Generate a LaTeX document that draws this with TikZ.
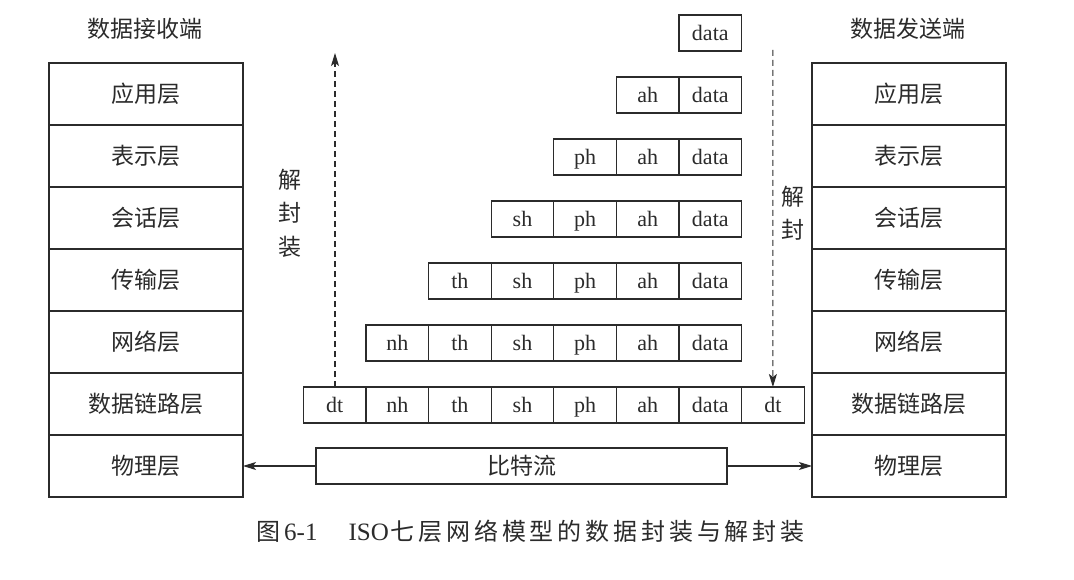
\documentclass[tikz,border=0pt]{standalone}
\usepackage{fontspec}
\setmainfont{Liberation Serif}
\newfontfamily\cjk{Noto Sans CJK SC}
\newfontfamily\cjkcap[LetterSpace=16]{Noto Sans CJK SC}
\usetikzlibrary{arrows.meta}
\definecolor{inkc}{HTML}{2B2B2B}
\begin{document}
\begin{tikzpicture}[x=1pt,y=-1pt,
  ink/.style={draw=inkc, line width=1.1pt},
  layer/.style={ink, minimum width=194pt, minimum height=62pt, inner sep=0pt, outer sep=0pt,
    anchor=north west, font=\cjk\fontsize{23}{26}\selectfont, text=inkc},
  cell/.style={ink, minimum width=62.6pt, minimum height=36pt, inner sep=0pt, outer sep=0pt,
    anchor=north west, font=\fontsize{22}{26}\selectfont, text=inkc, text height=18pt, text depth=3pt},
  title/.style={font=\cjk\fontsize{23}{26}\selectfont, text=inkc, inner sep=0pt},
  vlabel/.style={font=\cjk\fontsize{23}{33.5}\selectfont, text=inkc, inner sep=0pt, align=center},
  flow/.style={ink, dash pattern=on 6pt off 4pt, -{Stealth[length=13pt,width=8pt,inset=3pt]}},
  push/.style={ink, -{Stealth[length=13pt,width=8pt,inset=3pt]}},
]
\useasboundingbox[fill=white] (0,0) rectangle (1074,580);

% titles
\node[title] (tRecv) at (145,29) {数据接收端};
\node[title] (tSend) at (908,29) {数据发送端};

% left stack (receiver)
\foreach \i/\t in {1/应用层,2/表示层,3/会话层,4/传输层,5/网络层,6/数据链路层,7/物理层}{
  \node[layer] (L\i) at (49,{63+62*(\i-1)}) {\t};
}
% right stack (sender)
\foreach \i/\t in {1/应用层,2/表示层,3/会话层,4/传输层,5/网络层,6/数据链路层,7/物理层}{
  \node[layer] (R\i) at (812,{63+62*(\i-1)}) {\t};
}

% data units
\foreach \k in {0,...,6}{
  \foreach \j/\t in {0/dt,1/nh,2/th,3/sh,4/ph,5/ah,6/data}{
    \pgfmathtruncatemacro\lim{6-\k}
    \ifnum\j<\lim\relax\else
      \node[cell] (c\k-\j) at ({303.4+62.6*\j},{15+62*\k}) {\t};
    \fi
  }
}
\node[cell] (c6-7) at ({303.4+62.6*7},{15+62*6}) {dt};

% bit stream
\node[ink, minimum width=411pt, minimum height=36pt, inner sep=0pt, outer sep=0pt, anchor=north west,
  font=\cjk\fontsize{23}{26}\selectfont, text=inkc] (bits) at (316,448) {比特流};
\draw[push] (bits.west) -- (L7.east |- bits.west);
\draw[push] (bits.east) -- (R7.west |- bits.east);

% decapsulation (left, upward)
\coordinate (upTop) at (335,53);
\draw[flow] (c6-0.north -| upTop) -- (upTop);
\node[vlabel] (lblUp) at (290,213) {解\\封\\装};

% right, downward
\coordinate (downTop) at (772.9,50);
\draw[flow] (downTop) -- (c6-7.north);
\node[vlabel] (lblDown) at (793,213) {解\\封};

% caption
\node[anchor=west, inner sep=0pt, text=inkc, font=\fontsize{25}{30}\selectfont] (cap) at (256,531)
  {{\cjkcap\fontsize{24}{30}\selectfont 图}\hspace{4pt}6-1\hspace{31pt}ISO\hspace{2pt}{\cjkcap\fontsize{24}{30}\selectfont 七层网络模型的数据封装与解封装}};
\end{tikzpicture}
\end{document}
